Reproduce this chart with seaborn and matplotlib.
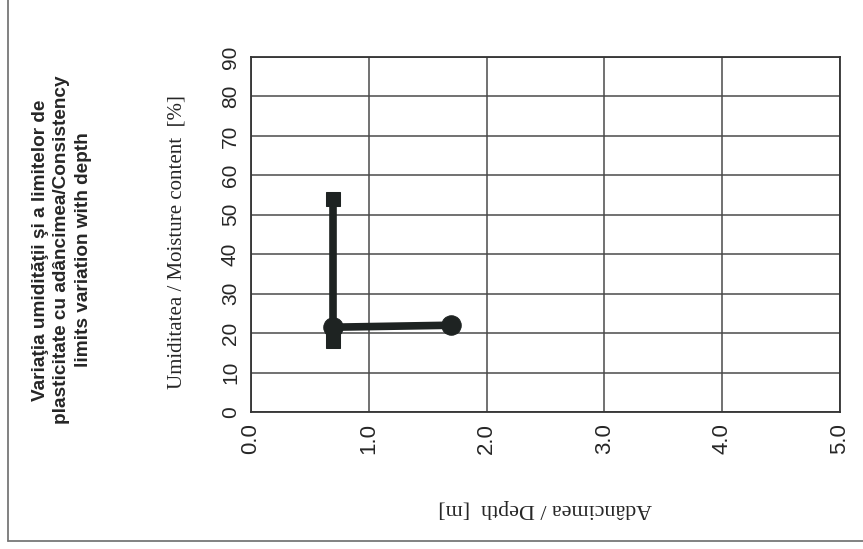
import matplotlib
matplotlib.use("Agg")
import matplotlib.pyplot as plt
import seaborn as sns
import pandas as pd
from matplotlib.lines import Line2D

# ---- data ----
limits_depth = [0.7, 0.7]          # consistency limits (liquid / plastic)
limits_value = [54, 18]
moisture_depth = [0.7, 1.7]        # natural moisture content
moisture_value = [21.5, 22]
x_ticks = [0.0, 1.0, 2.0, 3.0, 4.0, 5.0]
y_ticks = [0, 10, 20, 30, 40, 50, 60, 70, 80, 90]
title = "Variaţia umidităţii şi a limitelor de\nplasticitate cu adâncimea/Consistency\nlimits variation with depth"
ylabel = "Umiditatea / Moisture content  [%]"
xlabel = "Adâncimea / Depth  [m]"

sns.set_style("white")
plt.rcParams['font.family'] = ['Liberation Sans', 'DejaVu Sans']

fig = plt.figure(figsize=(8.63, 5.49), dpi=100)
ax = fig.add_axes([251/863, 1-412/549, (840-251)/863, (412-57)/549])

line_col = "#1e2322"
df_lim = pd.DataFrame({"depth": limits_depth, "value": limits_value})
df_moist = pd.DataFrame({"depth": moisture_depth, "value": moisture_value})

sns.lineplot(data=df_lim, x="depth", y="value", estimator=None, sort=False,
             color=line_col, linewidth=5.5, marker="s", markersize=10,
             markeredgecolor=line_col, ax=ax, zorder=3)
sns.lineplot(data=df_moist, x="depth", y="value", estimator=None, sort=False,
             color=line_col, linewidth=5.5, marker="o", markersize=14,
             markeredgecolor=line_col, ax=ax, zorder=4)

ax.set_xlim(0, 5)
ax.set_ylim(0, 90)
ax.set_xticks(x_ticks)
ax.set_xticklabels([f"{v:.1f}" for v in x_ticks], rotation=90, fontsize=16)
ax.set_yticks(y_ticks)
ax.set_yticklabels([str(v) for v in y_ticks], rotation=90, va="center", fontsize=15)
ax.grid(True, color="#4a4a4a", linewidth=1.1)
ax.set_axisbelow(True)
for s in ax.spines.values():
    s.set_color("#333333")
    s.set_linewidth(1.3)
ax.tick_params(axis="both", direction="out", length=5, width=1.1, color="#333333", pad=3)

ax.set_ylabel(ylabel, family="Liberation Serif", fontsize=15, rotation=90,
              va="center", ha="center")
ax.yaxis.set_label_coords(-0.126, 0.48)
ax.set_xlabel(xlabel, family="Liberation Serif", fontsize=15.8, rotation=180,
              va="center", ha="center")
ax.xaxis.set_label_coords(0.5, -0.273)

fig.text(62/863, 1-250/549, title, rotation=90, ha="center", va="center",
         multialignment="center", fontsize=13.7, fontweight="bold", linespacing=1.35)

# outer frame (left and bottom edges)
fig.add_artist(Line2D([8/863, 8/863], [1-541/549, 1.0], transform=fig.transFigure,
                      color="#777777", linewidth=1.3))
fig.add_artist(Line2D([8/863, 1.0], [1-541/549, 1-541/549], transform=fig.transFigure,
                      color="#777777", linewidth=1.3))

fig.savefig("out.png", dpi=100)
